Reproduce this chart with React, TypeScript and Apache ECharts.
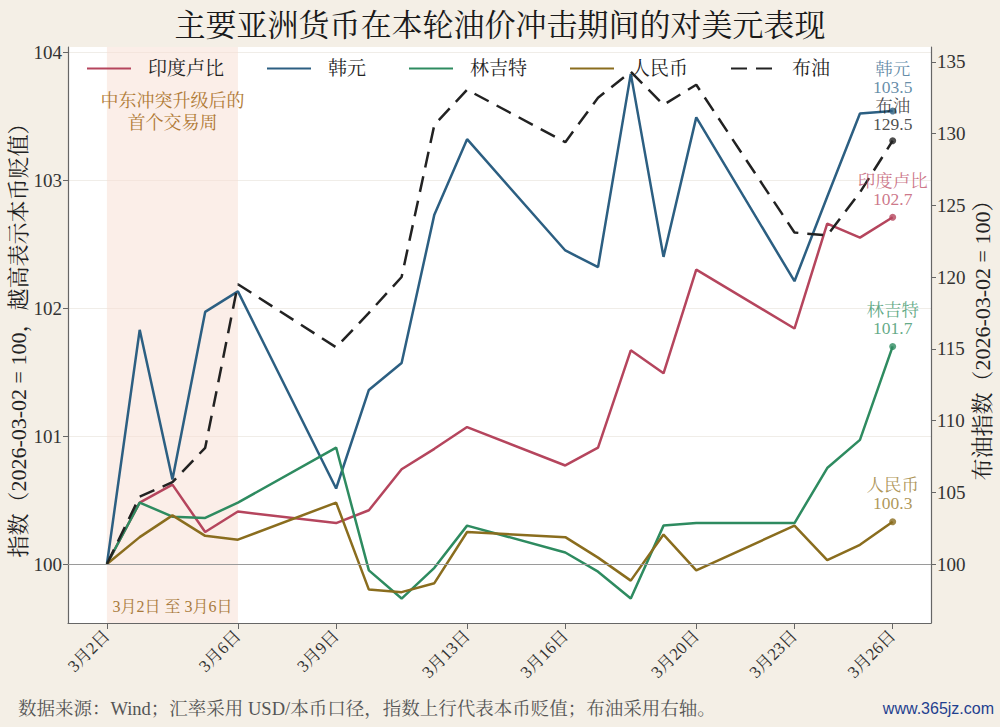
import React, { useEffect, useRef } from "react";
import * as echarts from "echarts";

// ---------- data ----------
const dates = [
  "2026-03-02", "2026-03-03", "2026-03-04", "2026-03-05", "2026-03-06",
  "2026-03-09", "2026-03-10", "2026-03-11", "2026-03-12", "2026-03-13",
  "2026-03-16", "2026-03-17", "2026-03-18", "2026-03-19", "2026-03-20",
  "2026-03-23", "2026-03-24", "2026-03-25", "2026-03-26",
];
const inr = [100, 100.48, 100.62, 100.25, 100.41, 100.32, 100.42, 100.74, 100.9, 101.07, 100.77, 100.91, 101.67, 101.49, 102.3, 101.84, 102.66, 102.55, 102.71];
const krw = [100, 101.83, 100.66, 101.97, 102.13, 100.59, 101.36, 101.57, 102.73, 103.32, 102.45, 102.32, 103.83, 102.4, 103.49, 102.21, 102.87, 103.52, 103.54];
const myr = [100, 100.48, 100.37, 100.36, 100.48, 100.91, 99.95, 99.73, 99.97, 100.3, 100.09, 99.94, 99.73, 100.3, 100.32, 100.32, 100.75, 100.97, 101.7];
const cny = [100, 100.21, 100.38, 100.22, 100.19, 100.48, 99.8, 99.78, 99.85, 100.25, 100.21, 100.05, 99.87, 100.23, 99.95, 100.3, 100.03, 100.15, 100.33];
const brent = [100, 104.7, 105.7, 108.1, 119.5, 115.1, 117.5, 120.0, 130.6, 133.05, 129.4, 132.5, 134.3, 132.0, 133.4, 123.1, 122.9, 125.9, 129.5];

const tickDates = ["2026-03-02", "2026-03-06", "2026-03-09", "2026-03-13", "2026-03-16", "2026-03-20", "2026-03-23", "2026-03-26"];
const tickLabels = ["3月2日", "3月6日", "3月9日", "3月13日", "3月16日", "3月20日", "3月23日", "3月26日"];
const leftTicks = [100, 101, 102, 103, 104];
const rightTicks = [100, 105, 110, 115, 120, 125, 130, 135];

const shadeRange = ["2026-03-02", "2026-03-06"];

const seriesNames = ["印度卢比", "韩元", "林吉特", "人民币", "布油"];
const seriesColors = ["#b5455d", "#2c5f82", "#2e8b60", "#8a6d1e", "#222222"];
const labelColors = ["#c0546b", "#3d6f92", "#3a9468", "#9a7b2e", "#222222"];

// ---------- helpers ----------
const DAY = 86400000;
const ts = (s: string) => {
  const [y, m, d] = s.split("-").map(Number);
  return Date.UTC(y, m - 1, d);
};

const SERIF = "'Liberation Serif', 'Noto Serif CJK SC', 'Noto Sans CJK SC', serif";

export default function App() {
  const ref = useRef<HTMLDivElement>(null);

  useEffect(() => {
    if (!ref.current) return;
    const chart = echarts.init(ref.current, undefined, { renderer: "svg" });

    const allValues = [inr, krw, myr, cny, brent];
    const tickTs = tickDates.map(ts);
    const lastIdx = dates.length - 1;

    const lineSeries: any[] = allValues.map((vals, i) => {
      const isBrent = i === 4;
      const s: any = {
        name: seriesNames[i],
        type: "line",
        yAxisIndex: isBrent ? 1 : 0,
        data: dates.map((d, k) => [ts(d), vals[k]]),
        symbol: "none",
        lineStyle: {
          color: seriesColors[i],
          width: 2.5,
          type: isBrent ? [16, 9] : "solid",
        },
        itemStyle: { color: seriesColors[i] },
        z: 3,
      };
      if (i === 0) {
        s.markArea = {
          silent: true,
          itemStyle: { color: "rgba(247, 222, 210, 0.5)" },
          data: [
            [
              {
                xAxis: ts(shadeRange[0]),
                label: {
                  show: true,
                  position: "insideBottom",
                  distance: 9,
                  formatter: "3月2日 至 3月6日",
                  color: "#a97a3c",
                  fontSize: 16,
                  fontFamily: SERIF,
                },
              },
              { xAxis: ts(shadeRange[1]) },
            ],
            [
              {
                xAxis: ts(shadeRange[0]),
                itemStyle: { color: "rgba(0,0,0,0)" },
                label: {
                  show: true,
                  position: "insideTop",
                  distance: 43,
                  formatter: "中东冲突升级后的\n首个交易周",
                  color: "#b07a35",
                  fontSize: 18,
                  lineHeight: 22,
                  fontFamily: SERIF,
                },
              },
              { xAxis: ts(shadeRange[1]) },
            ],
          ],
        };
        s.markLine = {
          silent: true,
          symbol: "none",
          label: { show: false },
          lineStyle: { color: "#9a9a9a", width: 1, type: "solid" },
          data: [{ yAxis: 100 }],
        };
      }
      return s;
    });

    const labelDistance = [6, 11, 6, 6, 4];
    const dotSeries: any[] = allValues.map((vals, i) => ({
      name: seriesNames[i] + "-end",
      type: "scatter",
      yAxisIndex: i === 4 ? 1 : 0,
      data: [[ts(dates[lastIdx]), vals[lastIdx]]],
      symbol: "circle",
      symbolSize: 7,
      itemStyle: { color: seriesColors[i] },
      z: 5,
      label: {
        show: true,
        position: "top",
        distance: labelDistance[i],
        formatter: (p: any) => `${seriesNames[i]}\n${Number(p.value[1]).toFixed(1)}`,
        color: labelColors[i],
        fontSize: 17.5,
        lineHeight: 18,
        fontFamily: SERIF,
      },
    }));

    chart.setOption({
      animation: false,
      backgroundColor: "#f4efe6",
      textStyle: { fontFamily: SERIF },
      title: {
        text: "主要亚洲货币在本轮油价冲击期间的对美元表现",
        left: "center",
        top: 5,
        textStyle: { fontSize: 31, fontWeight: "normal", color: "#1a1a1a", fontFamily: SERIF },
      },
      legend: {
        data: seriesNames,
        left: 86,
        top: 59,
        padding: 0,
        itemWidth: 44,
        itemHeight: 14,
        itemGap: 42,
        itemStyle: { opacity: 0 },
        textStyle: { fontSize: 19, color: "#222", padding: [0, 0, 0, 12], fontFamily: SERIF },
      },
      grid: {
        left: 68,
        right: 69,
        top: 47,
        bottom: 104,
        show: true,
        backgroundColor: "#ffffff",
        borderWidth: 0,
        containLabel: false,
        outerBoundsMode: "none",
      },
      xAxis: {
        type: "value",
        min: ts(dates[0]) - 1.19 * DAY,
        max: ts(dates[lastIdx]) + 1.17 * DAY,
        axisLine: { show: true, onZero: false, lineStyle: { color: "#666", width: 1.2 } },
        axisTick: { show: true, length: 6, lineStyle: { color: "#666" }, customValues: tickTs },
        axisLabel: {
          customValues: tickTs,
          rotate: 45,
          fontSize: 17,
          color: "#333",
          margin: 10,
          fontFamily: SERIF,
          formatter: (v: number) => {
            const idx = tickTs.findIndex((t) => Math.abs(t - v) < DAY / 2);
            return idx >= 0 ? tickLabels[idx] : "";
          },
        },
        splitLine: { show: false },
      },
      yAxis: [
        {
          type: "value",
          position: "left",
          min: 99.539,
          max: 104.04,
          name: "指数（2026-03-02 = 100，越高表示本币贬值）",
          nameLocation: "middle",
          nameRotate: 90,
          nameGap: 39,
          nameMoveOverlap: false,
          nameTextStyle: { fontSize: 22, color: "#222", fontFamily: SERIF },
          axisLine: { show: true, lineStyle: { color: "#666", width: 1.2 } },
          axisTick: { show: true, length: 5, lineStyle: { color: "#666" }, customValues: leftTicks },
          axisLabel: { customValues: leftTicks, fontSize: 19, color: "#333", margin: 6, fontFamily: SERIF },
          splitLine: { show: true, lineStyle: { color: "#f0ede8", width: 1 } },
        },
        {
          type: "value",
          position: "right",
          min: 95.89,
          max: 136.03,
          name: "布油指数（2026-03-02 = 100）",
          nameLocation: "middle",
          nameRotate: 90,
          nameGap: 40,
          nameMoveOverlap: false,
          nameTextStyle: { fontSize: 22, color: "#222", fontFamily: SERIF },
          axisLine: { show: true, lineStyle: { color: "#666", width: 1.2 } },
          axisTick: { show: true, length: 5, lineStyle: { color: "#666" }, customValues: rightTicks },
          axisLabel: { customValues: rightTicks, fontSize: 19, color: "#333", margin: 6, fontFamily: SERIF },
          splitLine: { show: false },
        },
      ],
      graphic: [
        {
          type: "text",
          left: 18,
          top: 700,
          style: {
            text: "数据来源：Wind；汇率采用 USD/本币口径，指数上行代表本币贬值；布油采用右轴。",
            fontSize: 18.5,
            fill: "#555",
            fontFamily: SERIF,
          },
        },
        {
          type: "text",
          right: 6,
          top: 700,
          style: {
            text: "www.365jz.com",
            fontSize: 16,
            fill: "#1f3f8f",
            fontFamily: "'Liberation Sans Narrow', 'Liberation Sans', sans-serif",
          },
        },
      ],
      series: [...lineSeries, ...dotSeries],
    });

    return () => chart.dispose();
  }, []);

  return <div ref={ref} style={{ width: 1000, height: 727, position: "absolute", left: 0, top: 0 }} />;
}
